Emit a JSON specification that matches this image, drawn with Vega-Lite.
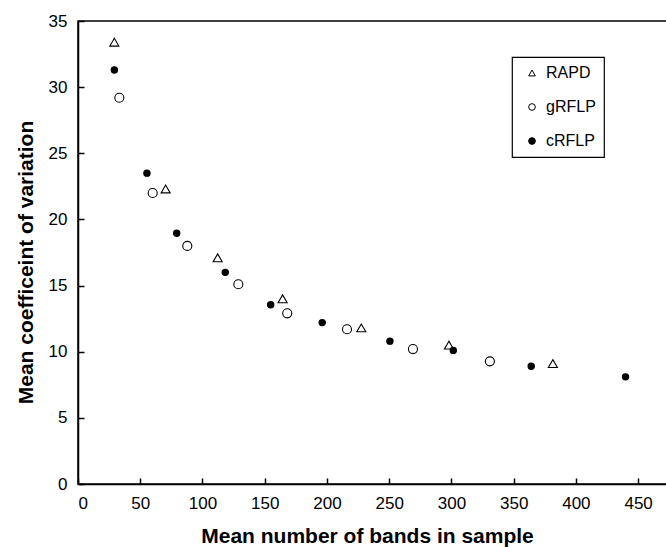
{
  "$schema": "https://vega.github.io/schema/vega-lite/v6.json",
  "autosize": "none",
  "padding": {"left": 78, "top": 21, "right": 0, "bottom": 63},
  "width": 590,
  "height": 463,
  "background": "white",
  "config": {
    "font": "Liberation Sans",
    "view": {"stroke": "black", "strokeWidth": 1.5},
    "axis": {
      "grid": false,
      "domainColor": "black",
      "domainWidth": 1.5,
      "tickColor": "black",
      "tickWidth": 1.5,
      "tickSize": -6,
      "labelFont": "Liberation Sans",
      "labelFontSize": 17,
      "labelColor": "black",
      "labelPadding": 17,
      "titleFont": "Liberation Sans",
      "titleFontSize": 21,
      "titleFontWeight": "bold",
      "titleColor": "black"
    },
    "legend": {
      "orient": "none",
      "legendX": 434,
      "legendY": 36,
      "strokeColor": "black",
      "strokeWidth": 1.2,
      "fillColor": "white",
      "padding": 8,
      "rowPadding": 18,
      "symbolSize": 45,
      "symbolOffset": 4,
      "symbolStrokeWidth": 1,
      "labelOffset": 6,
      "labelFont": "Liberation Sans",
      "labelFontSize": 16,
      "labelColor": "black"
    }
  },
  "data": {
    "values": [
      {"series": "RAPD", "bands": 29.2, "cv": 33.4},
      {"series": "RAPD", "bands": 70.4, "cv": 22.3},
      {"series": "RAPD", "bands": 112.2, "cv": 17.1},
      {"series": "RAPD", "bands": 164.4, "cv": 14.0},
      {"series": "RAPD", "bands": 227.6, "cv": 11.8},
      {"series": "RAPD", "bands": 298.0, "cv": 10.5},
      {"series": "RAPD", "bands": 381.5, "cv": 9.1},
      {"series": "gRFLP", "bands": 33.2, "cv": 29.2},
      {"series": "gRFLP", "bands": 60.0, "cv": 22.0},
      {"series": "gRFLP", "bands": 87.8, "cv": 18.0},
      {"series": "gRFLP", "bands": 128.8, "cv": 15.1},
      {"series": "gRFLP", "bands": 168.1, "cv": 12.9},
      {"series": "gRFLP", "bands": 216.1, "cv": 11.7},
      {"series": "gRFLP", "bands": 269.1, "cv": 10.2},
      {"series": "gRFLP", "bands": 330.9, "cv": 9.27},
      {"series": "cRFLP", "bands": 29.2, "cv": 31.3},
      {"series": "cRFLP", "bands": 55.4, "cv": 23.5},
      {"series": "cRFLP", "bands": 79.3, "cv": 18.95},
      {"series": "cRFLP", "bands": 118.3, "cv": 16.0},
      {"series": "cRFLP", "bands": 154.8, "cv": 13.55},
      {"series": "cRFLP", "bands": 196.2, "cv": 12.2},
      {"series": "cRFLP", "bands": 250.6, "cv": 10.8},
      {"series": "cRFLP", "bands": 301.5, "cv": 10.1},
      {"series": "cRFLP", "bands": 364.1, "cv": 8.9},
      {"series": "cRFLP", "bands": 439.9, "cv": 8.1}
    ]
  },
  "mark": {"type": "point", "filled": false, "strokeWidth": 1.1, "opacity": 1, "fillOpacity": 1},
  "encoding": {
    "x": {
      "field": "bands", "type": "quantitative",
      "title": "Mean number of bands in sample",
      "scale": {"domain": [0, 474], "nice": false, "zero": false},
      "axis": {"values": [0, 50, 100, 150, 200, 250, 300, 350, 400, 450], "titleX": 289, "titlePadding": 14}
    },
    "y": {
      "field": "cv", "type": "quantitative",
      "title": "Mean coefficeint of variation",
      "scale": {"domain": [0, 35], "nice": false},
      "axis": {"values": [0, 5, 10, 15, 20, 25, 30, 35], "titleY": 241, "titlePadding": 12}
    },
    "stroke": {"value": "black"},
    "shape": {
      "field": "series", "type": "nominal",
      "scale": {"domain": ["RAPD", "gRFLP", "cRFLP"], "range": ["triangle-up", "circle", "circle"]},
      "legend": {
        "title": null,
        "encode": {"symbols": {"update": {"stroke": {"value": "black"}, "strokeWidth": {"value": 1}}}}
      }
    },
    "fill": {
      "field": "series", "type": "nominal",
      "scale": {"domain": ["RAPD", "gRFLP", "cRFLP"], "range": ["white", "white", "black"]},
      "legend": {
        "title": null,
        "encode": {"symbols": {"update": {"stroke": {"value": "black"}, "strokeWidth": {"value": 1}}}}
      }
    },
    "size": {
      "condition": {"test": "datum.series === 'cRFLP'", "value": 40},
      "value": 82
    }
  }
}
